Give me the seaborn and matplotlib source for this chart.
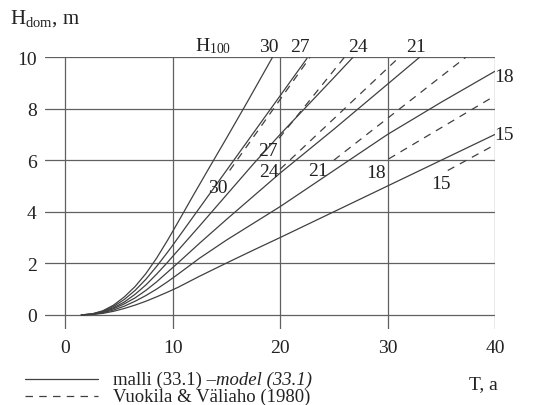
import numpy as np
import pandas as pd
import matplotlib.pyplot as plt
import seaborn as sns
from matplotlib.lines import Line2D

# model (33.1) curves, one per H100 site index
t_30 = [1.5, 2.5, 3.5, 4.5, 5.5, 6.5, 7.5, 8.5, 9.5, 10.5, 12, 13.5, 15, 17, 19.3]
h_30 = [0.0, 0.04, 0.16, 0.38, 0.7, 1.1, 1.6, 2.2, 2.88, 3.6, 4.7, 5.78, 6.85, 8.3, 10.0]
t_27 = [1.5, 2.5, 3.5, 4.5, 5.5, 6.5, 7.5, 8.5, 9.5, 10, 11, 12.5, 15, 17.5, 20, 22.5]
h_27 = [0.0, 0.035, 0.14, 0.33, 0.6, 0.95, 1.38, 1.88, 2.42, 2.7, 3.28, 4.15, 5.6, 7.05, 8.5, 9.95]
t_24 = [1.5, 2.5, 3.5, 4.5, 5.5, 6.5, 7.5, 8.5, 9.5, 10, 11, 12.5, 15, 17.5, 20, 22.5, 25, 26.8]
h_24 = [0.0, 0.03, 0.12, 0.28, 0.5, 0.8, 1.16, 1.58, 2.03, 2.27, 2.74, 3.45, 4.65, 5.85, 7.0, 8.1, 9.2, 10.0]
t_21 = [1.5, 2.5, 3.5, 4.5, 5.5, 6.5, 7.5, 8.5, 9.5, 10.5, 12.5, 15, 17.5, 20, 25, 30, 33]
h_21 = [0.0, 0.025, 0.1, 0.24, 0.43, 0.66, 0.95, 1.28, 1.65, 2.02, 2.78, 3.7, 4.6, 5.5, 7.2, 8.95, 10.0]
t_18 = [1.5, 2.5, 3.5, 4.5, 5.5, 6.5, 7.5, 8.5, 9.5, 10.5, 12.5, 15, 17.5, 20, 25, 30, 35, 40]
h_18 = [0.0, 0.02, 0.08, 0.19, 0.34, 0.53, 0.75, 1.0, 1.28, 1.58, 2.2, 2.9, 3.55, 4.2, 5.6, 7.0, 8.25, 9.45]
t_15 = [1.5, 2.5, 3.5, 4.5, 5.5, 6.5, 7.5, 8.5, 9.5, 10.5, 12.5, 15, 17.5, 20, 25, 30, 35, 40]
h_15 = [0.0, 0.015, 0.06, 0.14, 0.25, 0.38, 0.53, 0.7, 0.88, 1.07, 1.5, 2.01, 2.51, 3.0, 4.0, 5.0, 6.0, 7.0]

# Vuokila & Väliaho (1980)
vt_30 = [15.3, 22.8]
vh_30 = [5.6, 10.0]
vt_27 = [19.9, 26.0]
vh_27 = [6.85, 10.0]
vt_24 = [20.0, 31.1]
vh_24 = [5.65, 10.0]
vt_21 = [25.0, 37.3]
vh_21 = [6.0, 10.0]
vt_18 = [30.1, 40.0]
vh_18 = [6.05, 8.5]
vt_15 = [35.6, 40.0]
vh_15 = [5.6, 6.6]

model = {30: (t_30, h_30), 27: (t_27, h_27), 24: (t_24, h_24),
         21: (t_21, h_21), 18: (t_18, h_18), 15: (t_15, h_15)}
vuokila = {30: (vt_30, vh_30), 27: (vt_27, vh_27), 24: (vt_24, vh_24),
           21: (vt_21, vh_21), 18: (vt_18, vh_18), 15: (vt_15, vh_15)}

sns.set_style("white")
plt.rcParams['font.family'] = ['Liberation Serif', 'DejaVu Serif']
plt.rcParams['mathtext.fontset'] = 'custom'
plt.rcParams['mathtext.rm'] = 'Liberation Serif'
plt.rcParams['mathtext.it'] = 'Liberation Serif:italic'

line_col = '#404040'
grid_col = '#606060'
text_col = '#222222'
dash = (0, (6, 5))
fs = 14

fig = plt.figure(figsize=(5.34, 4.06), dpi=100)
ax = fig.add_axes([0.084, 0.187, 0.843, 0.67])

for k, (t, h) in model.items():
    df = pd.DataFrame({'T': t, 'H': h})
    sns.lineplot(data=df, x='T', y='H', ax=ax, color=line_col, lw=0.9)
for k, (t, h) in vuokila.items():
    df = pd.DataFrame({'T': t, 'H': h})
    sns.lineplot(data=df, x='T', y='H', ax=ax, color=line_col, lw=0.9, linestyle=dash)

ax.set_xlim(-1.9, 40)
ax.set_ylim(-0.55, 10)
ax.set_xticks([0, 10, 20, 30, 40])
ax.set_yticks([0, 2, 4, 6, 8, 10])
ax.grid(True, color=grid_col, lw=0.9)
ax.set_axisbelow(True)
for s in ax.spines.values():
    s.set_visible(False)
ax.tick_params(length=0, labelsize=fs, colors=text_col)
ax.tick_params(axis='x', pad=7)
ax.tick_params(axis='y', pad=6)
ax.set_xlabel('')
ax.set_ylabel('')

# curve labels
txt = dict(fontsize=fs, color=text_col, ha='center', va='center', clip_on=False)
ax.text(13.8, 10.45, 'H$_{100}$', **txt)
top_pos = {30: 18.9, 27: 21.8, 24: 27.2, 21: 32.6}
for k, x in top_pos.items():
    ax.text(x, 10.4, str(k), **txt)
ax.text(40.8, 9.26, '18', **txt)
ax.text(40.8, 7.0, '15', **txt)
low_pos = {30: (14.2, 4.96), 27: (18.85, 6.36), 24: (19.0, 5.58),
           21: (23.5, 5.6), 18: (28.9, 5.54), 15: (35.0, 5.08)}
for k, (x, y) in low_pos.items():
    ax.text(x, y, str(k), **txt)

fig.text(0.019, 0.955, 'H$_{\\rm dom}$, m', fontsize=fs + 1, color=text_col, va='center')
fig.text(0.905, 0.052, 'T, a', fontsize=fs, color=text_col, ha='center', va='center')

# legend drawn by hand (mixed upright / italic label)
W, H = 534, 406
y1, y2 = 1 - 380 / H, 1 - 397 / H
fig.add_artist(Line2D([25 / W, 98 / W], [y1, y1], color=line_col, lw=0.9))
fig.add_artist(Line2D([25 / W, 98 / W], [y2, y2], color=line_col, lw=0.9, linestyle=dash))
t1 = fig.text(113 / W, y1, 'malli (33.1) –', fontsize=13.5, color=text_col, va='center')
fig.text(113 / W, y2, 'Vuokila & Väliaho (1980)', fontsize=13.5, color=text_col, va='center')
fig.canvas.draw()
bb = t1.get_window_extent(renderer=fig.canvas.get_renderer())
fig.text(bb.x1 / W, y1, 'model (33.1)', fontsize=13.5, color=text_col,
         va='center', style='italic')

fig.savefig('out.png', dpi=100)
